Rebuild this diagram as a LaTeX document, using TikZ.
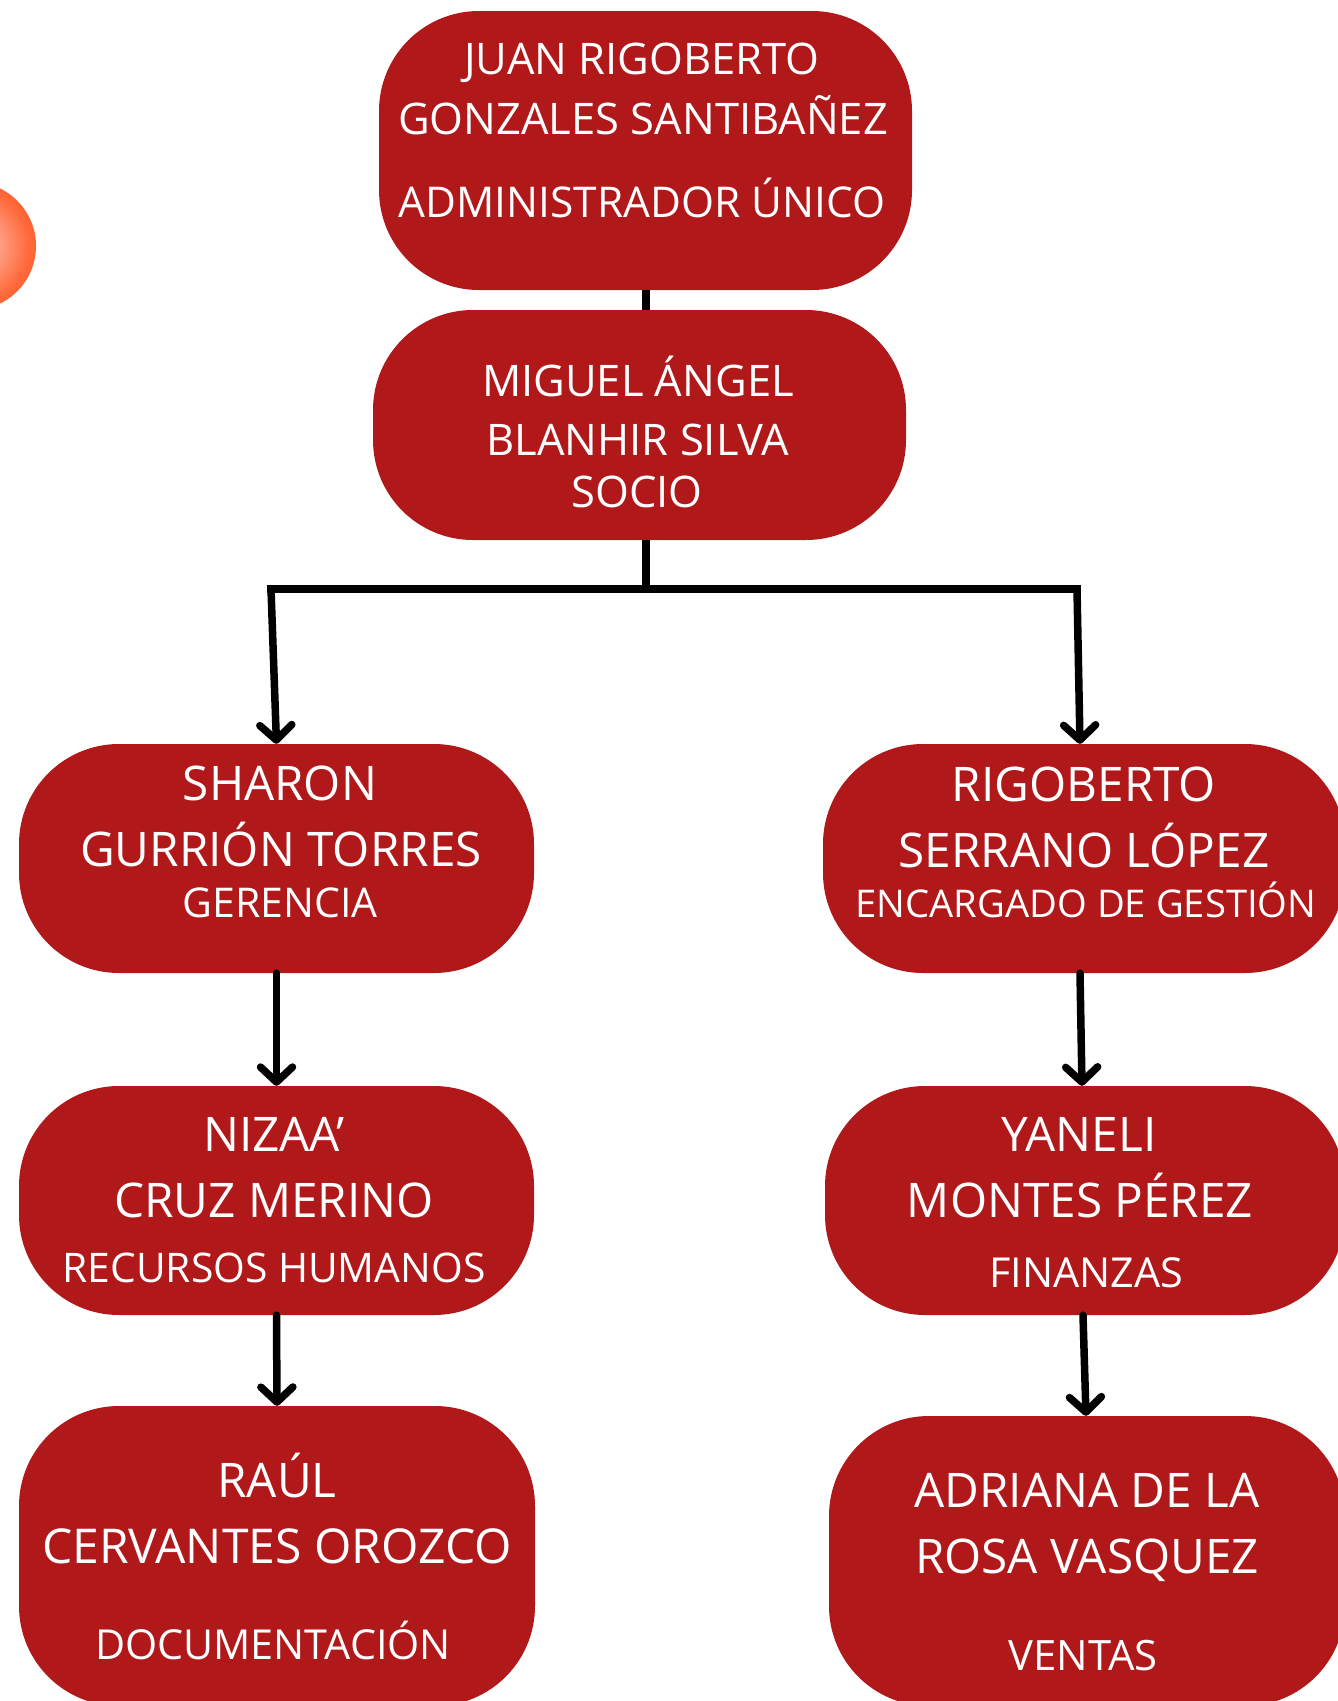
\documentclass[tikz,border=0pt]{standalone}
\usepackage{fontspec}
\setmainfont{Open Sans}
\usetikzlibrary{arrows.meta}
\definecolor{boxred}{HTML}{B0181A}
\definecolor{orbin}{HTML}{FFB4A2}
\definecolor{orbmid}{HTML}{FF6A3C}
\definecolor{orbout}{HTML}{FF4818}
\pgfdeclareradialshading{orb}{\pgfpoint{0bp}{0bp}}{color(0bp)=(orbin); color(6bp)=(orbin); color(22bp)=(orbmid); color(34bp)=(orbout); color(50bp)=(orbout)}
\tikzset{
  box/.style={fill=boxred, draw=none, rectangle, rounded corners=100pt, inner sep=0pt},
  bigtxt/.style={text=white, anchor=base, inner sep=0pt, font=\fontsize{47.7}{47.7}\selectfont},
  toptxt/.style={text=white, anchor=base, inner sep=0pt, font=\fontsize{43.5}{43.5}\selectfont},
  roletxt/.style={text=white, anchor=base, inner sep=0pt, font=\fontsize{41.3}{41.3}\selectfont},
  conn/.style={line width=7.5pt, draw=black},
  arr/.style={conn, line cap=round, line join=round, -{Straight Barb[length=15pt,width=32pt,line cap=round,line join=round]}}
}
\begin{document}
\begin{tikzpicture}[x=1pt,y=-1pt]
\useasboundingbox (0,0) rectangle (1338,1701);
\clip (0,0) rectangle (1338,1701);
\fill[white] (0,0) rectangle (1338,1701);

% decorative orb
\shade[shading=orb] (-28,246) circle[radius=64];

% boxes
\node[box, minimum width=533pt, minimum height=279pt] (top) at (645.5,150.5) {};
\node[box, minimum width=533pt, minimum height=230pt] (miguel) at (639.5,425) {};
\node[box, minimum width=515pt, minimum height=229pt] (sharon) at (276.5,858.5) {};
\node[box, minimum width=522pt, minimum height=229pt] (rigo) at (1084,858.5) {};
\node[box, minimum width=515pt, minimum height=229pt] (nizaa) at (276.5,1200.5) {};
\node[box, minimum width=520pt, minimum height=229pt] (yaneli) at (1085,1200.5) {};
\node[box, minimum width=516pt, minimum height=300pt] (raul) at (277,1556) {};
\node[box, minimum width=516pt, minimum height=290pt] (adriana) at (1087,1561) {};

% connectors
\coordinate (j) at (646,589);
\coordinate (jl) at (271,589);
\coordinate (jr) at (1077,589);
\draw[conn] (top.south -| j) -- (miguel.north -| j);
\draw[conn] (miguel.south -| j) -- (j);
\draw[conn] ([xshift=-3.75pt]jl) -- ([xshift=3.75pt]jr);
\draw[arr] (jl) -- (sharon.north);
\draw[arr] (jr) -- ([xshift=-4pt]rigo.north);
\draw[arr] (sharon.south) -- (nizaa.north);
\draw[arr] (nizaa.south) -- (raul.north);
\draw[arr] ([xshift=-4pt]rigo.south) -- ([xshift=-3pt]yaneli.north);
\draw[arr] ([xshift=-2pt]yaneli.south) -- ([xshift=-1pt]adriana.north);

% texts
\node[toptxt] (t1) at (642,74) {JUAN RIGOBERTO};
\node[toptxt] (t2) at (643,134) {GONZALES SANTIBAÑEZ};
\node[toptxt, font=\fontsize{42.4}{42.4}\selectfont] (t3) at (642,217) {ADMINISTRADOR ÚNICO};

\node[toptxt] (m1) at (638,396) {MIGUEL ÁNGEL};
\node[toptxt] (m2) at (638,455) {BLANHIR SILVA};
\node[toptxt] (m3) at (637,507) {SOCIO};

\node[bigtxt] (s1) at (280,800) {SHARON};
\node[bigtxt] (s2) at (281,866) {GURRIÓN TORRES};
\node[roletxt, font=\fontsize{41}{41}\selectfont] (s3) at (280,917) {GERENCIA};

\node[bigtxt] (r1) at (1084,801) {RIGOBERTO};
\node[bigtxt] (r2) at (1084,867) {SERRANO LÓPEZ};
\node[roletxt, font=\fontsize{38.2}{38.2}\selectfont] (r3) at (1086,917) {ENCARGADO DE GESTIÓN};

\node[bigtxt] (n1) at (274,1151) {NIZAA’};
\node[bigtxt] (n2) at (274,1217) {CRUZ MERINO};
\node[roletxt, font=\fontsize{40.8}{40.8}\selectfont] (n3) at (274,1282) {RECURSOS HUMANOS};

\node[bigtxt] (y1) at (1079,1151) {YANELI};
\node[bigtxt] (y2) at (1080,1217) {MONTES PÉREZ};
\node[roletxt] (y3) at (1086,1287) {FINANZAS};

\node[bigtxt] (a1) at (277,1497) {RAÚL};
\node[bigtxt, font=\fontsize{48}{48}\selectfont] (a2) at (277,1563) {CERVANTES OROZCO};
\node[roletxt] (a3) at (273,1659) {DOCUMENTACIÓN};

\node[bigtxt] (d1) at (1087,1507) {ADRIANA DE LA};
\node[bigtxt] (d2) at (1087,1573) {ROSA VASQUEZ};
\node[roletxt, font=\fontsize{41.8}{41.8}\selectfont] (d3) at (1083,1670) {VENTAS};
\end{tikzpicture}
\end{document}
